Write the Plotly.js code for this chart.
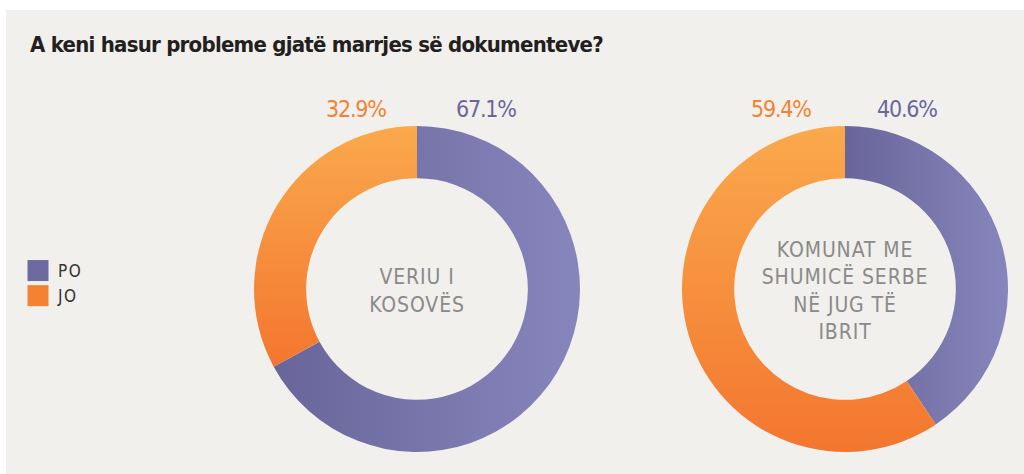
<!DOCTYPE html>
<html>
<head>
<meta charset="utf-8">
<script src="https://cdn.plot.ly/plotly-3.0.1.min.js"></script>
<style>
  html, body { margin: 0; padding: 0; background: #ffffff; width: 1024px; height: 474px; overflow: hidden; }
  #chart { position: absolute; left: 6px; top: 10px; width: 1018px; height: 464px; }
  .annotation-text { letter-spacing: -1.2px; }
  text.titletext { letter-spacing: 0.9px; }
  text.gtitle { letter-spacing: -0.75px; }
  text.legendtext { letter-spacing: 1.5px; }
</style>
</head>
<body>
<div id="chart"></div>
<script>
// ---- data ----
const labels = ['PO', 'JO'];
const regions = ['VERIU I<br>KOSOVËS', 'KOMUNAT ME<br>SHUMICË SERBE<br>NË JUG TË<br>IBRIT'];
const veriuValues = [67.1, 32.9];
const jugValues = [40.6, 59.4];
const chartTitle = 'A keni hasur probleme gjatë marrjes së dokumenteve?';

// ---- style ----
const W = 1018, H = 464, OX = 6, OY = 10;
const px = x => (x - OX) / W;
const py = y => 1 - (y - OY) / H;
const narrow = '"DejaVu Sans Condensed", sans-serif';
const solidColors = ['#6c6a9e', '#f58233'];
const R = 163;
function dom(cx, cy) {
  return { x: [px(cx - R), px(cx + R)], y: [py(cy + R), py(cy - R)] };
}

function pie(values, title, d) {
  return {
    type: 'pie',
    labels: labels,
    values: values,
    sort: false,
    direction: 'clockwise',
    rotation: 0,
    hole: 0.68,
    textinfo: 'none',
    hoverinfo: 'label+percent',
    marker: { colors: solidColors, line: { width: 0 } },
    domain: d,
    title: { text: title, position: 'middle center',
             font: { family: narrow, size: 21, color: '#8a8a8a' } }
  };
}

const data = [
  pie(veriuValues, regions[0], dom(417, 289)),
  pie(jugValues, regions[1], dom(845, 289))
];

const fmt = v => v.toFixed(1) + '%';
const pctFont = c => ({ family: narrow, size: 23, color: c });
const annotations = [
  { text: fmt(veriuValues[1]), x: px(356), y: py(109), font: pctFont('#f58233') },
  { text: fmt(veriuValues[0]), x: px(486), y: py(109), font: pctFont('#6a679c') },
  { text: fmt(jugValues[1]), x: px(781), y: py(109), font: pctFont('#f58233') },
  { text: fmt(jugValues[0]), x: px(907), y: py(109), font: pctFont('#6a679c') }
].map(a => Object.assign({ xref: 'paper', yref: 'paper', showarrow: false,
  xanchor: 'center', yanchor: 'middle' }, a));

const layout = {
  width: W, height: H,
  paper_bgcolor: '#f1f0ec',
  plot_bgcolor: '#f1f0ec',
  margin: { l: 0, r: 0, t: 0, b: 0 },
  title: { text: chartTitle, x: px(30), xanchor: 'left', xref: 'paper',
           y: py(44), yanchor: 'middle', yref: 'paper',
           font: { family: '"DejaVu Sans Condensed", sans-serif', weight: 'bold', size: 22, color: '#231f20' } },
  showlegend: true,
  legend: { x: px(18), xanchor: 'left', y: py(253), yanchor: 'top',
            bgcolor: 'rgba(0,0,0,0)', font: { family: narrow, size: 17, color: '#333333' },
            itemclick: false, itemdoubleclick: false, tracegroupgap: 0 },
  annotations: annotations
};

Plotly.newPlot('chart', data, layout, { displayModeBar: false, staticPlot: true }).then(gd => {
  const ns = 'http://www.w3.org/2000/svg';
  const svg = gd.querySelector('svg.main-svg');
  let defs = svg.querySelector('defs');
  if (!defs) { defs = document.createElementNS(ns, 'defs'); svg.insertBefore(defs, svg.firstChild); }
  function grad(id, x1, y1, x2, y2, c1, c2) {
    const g = document.createElementNS(ns, 'linearGradient');
    g.setAttribute('id', id);
    g.setAttribute('x1', x1); g.setAttribute('y1', y1);
    g.setAttribute('x2', x2); g.setAttribute('y2', y2);
    [[0, c1], [1, c2]].forEach(([o, c]) => {
      const s = document.createElementNS(ns, 'stop');
      s.setAttribute('offset', o); s.setAttribute('stop-color', c);
      g.appendChild(s);
    });
    defs.appendChild(g);
  }
  grad('gPurple', 0, 0, 1, 0, '#69659a', '#8786bc');
  grad('gOrange', 0, 0, 0, 1, '#faa94c', '#f3762f');
  gd.querySelectorAll('.pielayer g.trace').forEach(tr => {
    tr.querySelectorAll('g.slice path.surface').forEach((p, i) => {
      p.style.fill = i === 0 ? 'url(#gPurple)' : 'url(#gOrange)';
    });
  });
  gd.querySelectorAll('.legendpoints path').forEach(p => {
    const t = p.getAttribute('transform') || '';
    p.setAttribute('transform', t + ' scale(1.75)');
  });
});
</script>
</body>
</html>
